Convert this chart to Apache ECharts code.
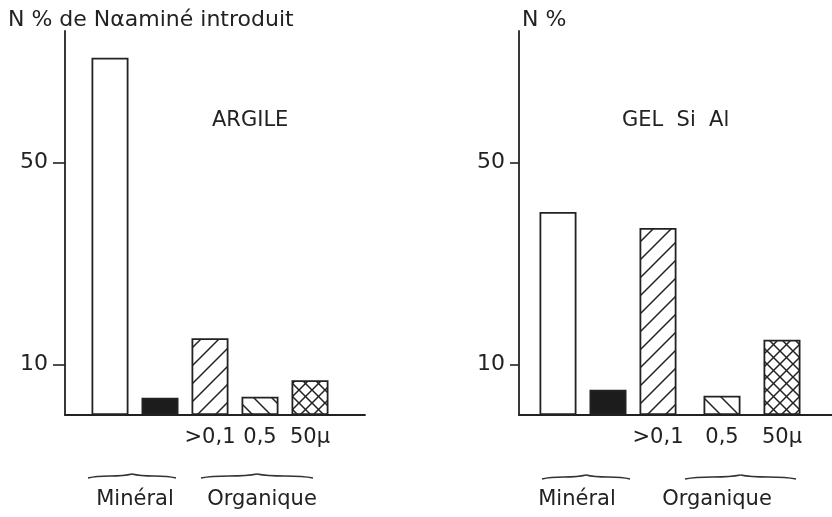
<!DOCTYPE html>
<html>
<head>
<meta charset="utf-8">
<script src="https://cdn.jsdelivr.net/npm/echarts@6/dist/echarts.min.js"></script>
<style>
html, body { margin: 0; padding: 0; background: #fff; }
#chart { width: 832px; height: 517px; }
</style>
</head>
<body>
<div id="chart"></div>
<script>
// 数据 (N % de N-α-aminé introduit)
const sizeLabels = ['', '', '>0,1', '0,5', '50μ']
const argile = [70.7, 3.4, 15.2, 3.6, 6.9]
const gelSiAl = [40.2, 5.0, 37.0, 3.8, 14.9]
const yTicks = [10, 50]
const yMax = 76

const FONT = '"DejaVu Sans", sans-serif'
const INK = '#222'

// hachures
function hatch (size, dirs) {
  const c = document.createElement('canvas')
  c.width = size
  c.height = size
  const ctx = c.getContext('2d')
  ctx.fillStyle = '#fff'
  ctx.fillRect(0, 0, size, size)
  ctx.strokeStyle = INK
  ctx.lineWidth = 1.5
  dirs.forEach(function (d) {
    ctx.beginPath()
    if (d === '/') {
      ctx.moveTo(-1, size + 1); ctx.lineTo(size + 1, -1)
      ctx.moveTo(-2, 2); ctx.lineTo(2, -2)
      ctx.moveTo(size - 2, size + 2); ctx.lineTo(size + 2, size - 2)
    } else {
      ctx.moveTo(-1, -1); ctx.lineTo(size + 1, size + 1)
      ctx.moveTo(size - 2, -2); ctx.lineTo(size + 2, 2)
      ctx.moveTo(-2, size - 2); ctx.lineTo(2, size + 2)
    }
    ctx.stroke()
  })
  return { image: c, repeat: 'repeat' }
}

const fills = ['#fff', '#1c1c1c', hatch(18, ['/']), hatch(18, ['\\']), hatch(13, ['/', '\\'])]

function barData (values, offset) {
  return values.map(function (v, i) {
    return { value: v, itemStyle: { color: fills[i + offset] } }
  })
}

function text (x, y, str, align, size) {
  return {
    type: 'text', x: x, y: y,
    style: { text: str, font: (size || 21) + 'px ' + FONT, fill: INK, align: align || 'left', verticalAlign: 'middle' }
  }
}

// accolade
function brace (x0, x1, y) {
  const m = (x0 + x1) / 2
  return [
    {
      type: 'bezierCurve',
      shape: { x1: x0, y1: y + 1, x2: m, y2: y - 3, cpx1: x0 + (m - x0) * 0.35, cpy1: y - 3, cpx2: m - (m - x0) * 0.35, cpy2: y + 1 },
      style: { stroke: '#333', lineWidth: 1.6, fill: null }
    },
    {
      type: 'bezierCurve',
      shape: { x1: m, y1: y - 3, x2: x1, y2: y + 1, cpx1: m + (x1 - m) * 0.35, cpy1: y + 1, cpx2: x1 - (x1 - m) * 0.35, cpy2: y - 3 },
      style: { stroke: '#333', lineWidth: 1.6, fill: null }
    }
  ]
}

const gridTop = 31
const gridBottom = 102

function lineX (gi) {
  return {
    gridIndex: gi, type: 'value', min: 0, max: 1,
    axisLine: { show: true, lineStyle: { color: INK, width: 1.8 } },
    axisTick: { show: false }, axisLabel: { show: false }, splitLine: { show: false }
  }
}

function catX (gi, data) {
  return {
    gridIndex: gi, type: 'category', data: data,
    axisLine: { show: false }, axisTick: { show: false },
    axisLabel: { color: INK, fontSize: 21, fontFamily: FONT, margin: 12, interval: 0 }
  }
}

function hiddenY (gi) {
  return { gridIndex: gi, type: 'value', min: 0, max: yMax, show: false }
}

function shownY (gi, offset, tickLen, margin) {
  return {
    gridIndex: gi, type: 'value', min: 0, max: yMax, offset: offset,
    axisLine: { show: true, lineStyle: { color: INK, width: 1.8 } },
    axisTick: { show: true, length: tickLen, customValues: yTicks, lineStyle: { color: INK, width: 1.6 } },
    axisLabel: { color: INK, fontSize: 22, fontFamily: FONT, margin: margin, customValues: yTicks },
    splitLine: { show: false }
  }
}

function bars (xi, values, offset) {
  return {
    type: 'bar', xAxisIndex: xi, yAxisIndex: xi,
    barWidth: 37, silent: true,
    itemStyle: { borderColor: INK, borderWidth: 1.8 },
    data: barData(values, offset)
  }
}

const chart = echarts.init(document.getElementById('chart'))
chart.setOption({
  animation: false,
  backgroundColor: '#fff',
  grid: [
    { left: 65, width: 300, top: gridTop, bottom: gridBottom },
    { left: 85, width: 250, top: gridTop, bottom: gridBottom },
    { left: 519, right: 0, top: gridTop, bottom: gridBottom },
    { left: 533, width: 150, top: gridTop, bottom: gridBottom },
    { left: 692, width: 120, top: gridTop, bottom: gridBottom }
  ],
  xAxis: [
    lineX(0),
    catX(1, sizeLabels),
    lineX(2),
    catX(3, sizeLabels.slice(0, 3)),
    catX(4, sizeLabels.slice(3))
  ],
  yAxis: [
    hiddenY(0),
    shownY(1, 20, 12, 17),
    hiddenY(2),
    shownY(3, 14, 9, 14),
    hiddenY(4)
  ],
  series: [
    bars(1, argile, 0),
    bars(3, gelSiAl.slice(0, 3), 0),
    bars(4, gelSiAl.slice(3), 3)
  ],
  graphic: [
    text(8, 20, 'N % de Nαaminé introduit', 'left', 22),
    text(522, 20, 'N %', 'left', 22),
    text(212, 121, 'ARGILE'),
    text(622, 121, 'GEL  Si  Al'),
    text(135, 500, 'Minéral', 'center'),
    text(262, 500, 'Organique', 'center'),
    text(577, 500, 'Minéral', 'center'),
    text(717, 500, 'Organique', 'center')
  ].concat(
    brace(88, 176, 477),
    brace(201, 313, 477),
    brace(542, 630, 478),
    brace(685, 796, 478)
  )
})
</script>
</body>
</html>
